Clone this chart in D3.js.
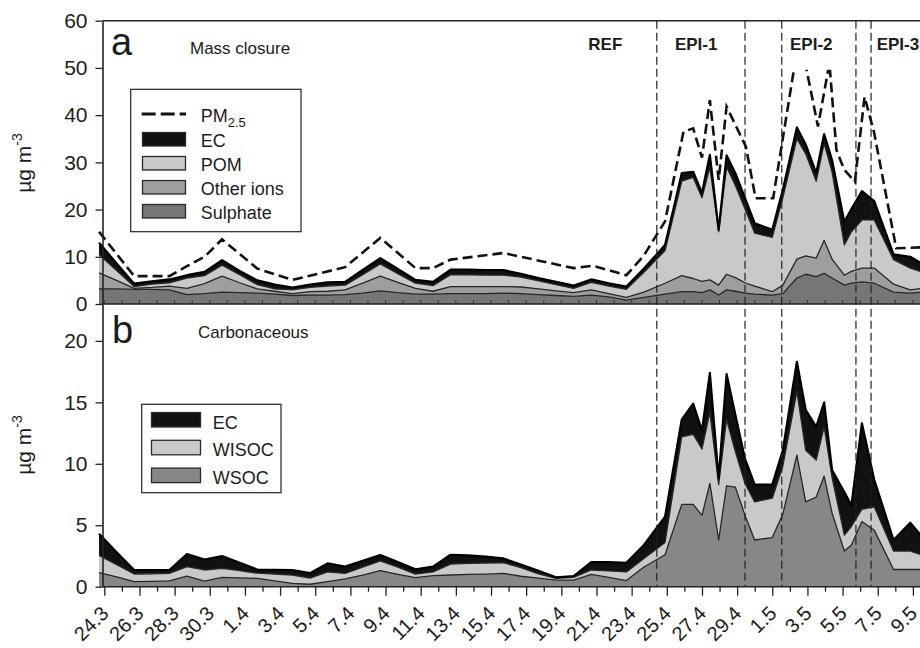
<!DOCTYPE html>
<html lang="en">
<head>
  <meta charset="UTF-8">
  <title>Mass closure / carbonaceous</title>
  <script src="https://cdn.jsdelivr.net/npm/d3@7"></script>
</head>
<style>
  body {
    margin: 0;
    background: #fff;
  }
  svg {
    display: block;
    font-family: "Liberation Sans", Arial, sans-serif;
  }
  text {
    fill: #1c1c1c;
  }
</style>
<body>
<svg width="920" height="648"></svg>
<script>
  // sample times, in days after 24.3 00:00
  const sampleDays = [-0.3, 0.7, 1.7, 2.7, 3.7, 4.7, 5.7, 6.7, 7.7, 8.7, 9.7, 10.7, 11.7, 12.7, 13.7, 14.7,
    15.7, 16.7, 17.7, 18.7, 19.7, 20.7, 21.7, 22.7, 23.7, 24.7, 25.7, 26.7, 27.7, 28.7, 29.7, 30.7,
    31.9, 32.85, 33.5, 34.0, 34.45, 34.95, 35.4, 35.9, 36.45, 37.0, 38.0, 38.6, 39.4, 39.9, 40.5, 40.95,
    41.4, 42.1, 42.5, 43.1, 43.8, 44.9, 45.85, 46.5];

  // panel a, ug m-3
  const sulphate = [3.2, 3.2, 3.1, 3.1, 3.0, 2.0, 2.2, 2.5, 2.4, 2.3, 2.1, 1.8, 1.9, 1.9, 2.0, 2.3,
    2.8, 2.4, 2.1, 2.1, 2.2, 2.2, 2.2, 2.3, 2.2, 2.0, 1.8, 1.6, 1.9, 1.5, 0.8, 1.4,
    2.1, 2.6, 2.6, 2.4, 3.0, 1.9, 3.0, 2.7, 2.3, 2.1, 1.9, 2.2, 5.5, 6.3, 5.8, 6.5,
    5.5, 4.0, 4.4, 4.7, 4.4, 2.5, 2.3, 2.5];
  const otherIons = [3.4, 1.8, 0.2, 0.4, 0.8, 1.3, 2.1, 3.4, 2.1, 0.9, 0.6, 0.4, 0.7, 0.8, 1.0, 2.1,
    3.1, 2.2, 1.2, 0.6, 1.5, 1.5, 1.5, 1.4, 1.4, 1.2, 1.0, 0.8, 1.1, 0.7, 0.6, 1.1,
    2.3, 3.4, 2.8, 2.4, 2.1, 2.1, 3.3, 2.9, 2.2, 1.7, 0.7, 1.8, 4.0, 3.9, 3.9, 7.0,
    4.0, 2.1, 2.5, 2.9, 3.2, 1.7, 0.7, 0.8];
  const pom = [3.9, 2.1, 0.4, 0.7, 0.7, 2.2, 1.7, 2.3, 1.7, 0.9, 0.5, 0.8, 0.9, 1.1, 1.0, 1.8,
    2.6, 1.8, 1.1, 1.2, 2.5, 2.5, 2.4, 2.4, 2.1, 1.7, 1.3, 0.9, 1.6, 1.6, 1.7, 4.2,
    6.9, 20.0, 21.4, 17.7, 23.9, 11.3, 22.7, 19.5, 15.6, 11.2, 11.5, 18.5, 25.5, 21.6, 16.3, 20.5,
    18.5, 6.4, 8.4, 10.2, 10.2, 5.2, 4.6, 3.5];
  const ecMassClosure = [2.5, 1.5, 0.6, 0.6, 0.7, 0.6, 0.8, 1.1, 0.8, 0.9, 0.9, 0.5, 0.6, 0.8, 0.7, 1.0,
    1.2, 1.0, 0.7, 0.8, 1.1, 1.1, 1.1, 1.1, 0.7, 0.6, 0.6, 0.6, 0.6, 0.6, 0.6, 0.8,
    1.2, 1.7, 1.2, 1.0, 2.6, 0.4, 2.5, 2.6, 2.3, 2.1, 1.6, 1.7, 2.4, 2.0, 1.7, 2.0,
    2.5, 4.9, 4.8, 6.1, 4.0, 1.1, 2.4, 1.8];

  const pmDays = [-0.3, 1.7, 3.7, 4.7, 5.7, 6.7, 8.7, 10.7, 13.7, 15.7, 17.7, 18.7, 19.7, 22.7, 26.7, 27.8,
    29.7, 30.7, 31.9, 32.95, 33.5, 34.0, 34.45, 34.95, 35.4, 36.5, 37.05, 38.05, 39.55, 40.6, 41.25, 41.65,
    42.1, 42.7, 43.25, 43.8, 45.05, 46.5];
  const pm25 = [15.3, 5.9, 5.9, 8.0, 10.0, 13.7, 7.5, 5.1, 7.8, 14.0, 7.6, 7.6, 9.4, 10.8, 7.6, 8.1,
    6.1, 10.3, 17.5, 36.5, 37.2, 31.0, 43.2, 26.3, 41.8, 33.3, 22.4, 22.4, 57.0, 37.6, 51.0, 32.6,
    28.4, 25.9, 43.9, 36.2, 11.8, 12.0];

  // panel b, ug m-3
  const wsoc = [1.15, 0.8, 0.41, 0.44, 0.47, 0.87, 0.45, 0.76, 0.72, 0.68, 0.47, 0.27, 0.2, 0.41, 0.63, 0.95,
    1.3, 1.0, 0.73, 0.9, 0.95, 1.0, 1.03, 1.08, 0.85, 0.7, 0.54, 0.54, 1.0, 0.75, 0.5, 1.6,
    2.6, 6.7, 6.7, 5.8, 8.4, 3.8, 8.2, 8.1, 5.8, 3.8, 4.0, 5.9, 10.7, 6.9, 7.3, 9.0,
    6.0, 2.9, 3.4, 5.3, 4.6, 1.4, 1.4, 1.4];
  const wisoc = [1.4, 1.0, 0.62, 0.61, 0.61, 0.76, 0.91, 0.74, 0.58, 0.42, 0.56, 0.68, 0.5, 0.79, 0.45, 0.65,
    0.8, 0.6, 0.3, 0.3, 0.89, 0.9, 0.9, 0.87, 0.7, 0.35, 0.14, 0.22, 0.36, 0.53, 0.7, 0.7,
    1.0, 5.5, 5.7, 5.4, 5.8, 4.5, 5.4, 2.9, 2.6, 3.1, 3.2, 3.9, 5.2, 4.2, 3.0, 4.0,
    2.9, 1.3, 1.5, 1.0, 1.9, 1.5, 1.5, 1.2];
  const ecCarbon = [1.75, 1.0, 0.33, 0.31, 0.28, 1.02, 0.84, 1.0, 0.65, 0.3, 0.35, 0.41, 0.4, 0.7, 0.55, 0.5,
    0.47, 0.4, 0.38, 0.43, 0.76, 0.65, 0.52, 0.35, 0.25, 0.25, 0.08, 0.11, 0.64, 0.72, 0.75, 1.1,
    2.1, 1.4, 2.5, 1.5, 3.2, 0.5, 3.7, 3.0, 2.0, 1.4, 1.1, 1.3, 2.4, 3.3, 2.7, 2.0,
    0.6, 3.5, 1.7, 7.0, 2.2, 0.9, 2.3, 1.5];

  // x axis labels every second day, starting 24.3
  const tickLabels = ['24.3', '26.3', '28.3', '30.3', '1.4', '3.4', '5.4', '7.4', '9.4', '11.4', '13.4', '15.4',
    '17.4', '19.4', '21.4', '23.4', '25.4', '27.4', '29.4', '1.5', '3.5', '5.5', '7.5', '9.5'];
  const periodLineDays = [31.43, 36.45, 38.54, 42.76, 43.62];
  const periodNames = ['REF', 'EPI-1', 'EPI-2', 'EPI-3'];
  const periodLabelDays = [28.5, 33.67, 40.22, 45.15];

  const svg = d3.select('svg');
  const W = 920;
  const axisX = 102.5;

  const x = d3.scaleLinear().domain([0, 46]).range([104.3, 912.9]);
  const yA = d3.scaleLinear().domain([0, 60]).range([304, 20.7]);
  const yB = d3.scaleLinear().domain([0, 23]).range([586.7, 304]);

  const colour = {
    sulphate: '#767676',
    other: '#9e9e9e',
    pom: '#c9c9c9',
    ec: '#111',
    wsoc: '#878787',
    wisoc: '#c9c9c9'
  };

  const rowsA = sampleDays.map((t, i) => ({t: t, sulphate: sulphate[i], other: otherIons[i], pom: pom[i], ec: ecMassClosure[i]}));
  const rowsB = sampleDays.map((t, i) => ({t: t, wsoc: wsoc[i], wisoc: wisoc[i], ec: ecCarbon[i]}));

  function drawStack(rows, keys, y) {
    const layers = d3.stack().keys(keys)(rows);
    const area = d3.area().x(d => x(d.data.t)).y0(d => y(d[0])).y1(d => y(d[1]));
    const edge = d3.line().x(d => x(d.data.t)).y(d => y(d[1]));
    const g = svg.append('g');
    g.selectAll('path.area').data(layers).enter().append('path')
      .attr('class', 'area')
      .attr('d', area)
      .style('fill', d => colour[d.key]);
    g.selectAll('path.edge').data(layers).enter().append('path')
      .attr('class', 'edge')
      .attr('d', edge)
      .style('fill', 'none')
      .style('stroke', d => d.key === 'ec' ? '#000' : '#262626')
      .style('stroke-width', d => d.key === 'ec' ? 2.2 : 1.3)
      .style('stroke-linejoin', 'round');
  }

  drawStack(rowsA, ['sulphate', 'other', 'pom', 'ec'], yA);
  drawStack(rowsB, ['wsoc', 'wisoc', 'ec'], yB);

  // period boundaries
  svg.append('g').selectAll('line').data(periodLineDays).enter().append('line')
    .attr('x1', d => x(d)).attr('x2', d => x(d))
    .attr('y1', yA(60)).attr('y2', yB(0))
    .style('stroke', '#222').style('stroke-width', 1.2).style('stroke-dasharray', '8,4');

  svg.append('g').selectAll('text').data(periodNames).enter().append('text')
    .attr('x', (d, i) => x(periodLabelDays[i]))
    .attr('y', 50)
    .attr('text-anchor', 'middle')
    .style('font-size', '17px').style('font-weight', 'bold')
    .text(d => d);

  // PM2.5, cut off above 50 as in the original
  svg.append('clipPath').attr('id', 'pmClip').append('rect')
    .attr('x', 0).attr('y', yA(49.6)).attr('width', W).attr('height', yA(0) - yA(49.6));
  const pmLine = d3.line().x((d, i) => x(pmDays[i])).y(d => yA(d));
  svg.append('path')
    .attr('d', pmLine(pm25))
    .attr('clip-path', 'url(#pmClip)')
    .style('fill', 'none').style('stroke', '#111').style('stroke-width', 2.6)
    .style('stroke-dasharray', '10,5');

  // frame
  svg.append('line').attr('x1', axisX).attr('x2', W).attr('y1', yA(60)).attr('y2', yA(60))
    .style('stroke', '#222').style('stroke-width', 1.4);
  svg.append('line').attr('x1', axisX).attr('x2', W).attr('y1', yA(0)).attr('y2', yA(0))
    .style('stroke', '#222').style('stroke-width', 1.6);
  svg.append('line').attr('x1', axisX).attr('x2', W).attr('y1', yB(0)).attr('y2', yB(0))
    .style('stroke', '#222').style('stroke-width', 1.6);

  // small ticks on panel a baseline
  svg.append('g').selectAll('line').data(d3.range(0, 47)).enter().append('line')
    .attr('x1', d => x(d)).attr('x2', d => x(d))
    .attr('y1', yA(0)).attr('y2', yA(0) - 4)
    .style('stroke', '#333').style('stroke-width', 1);

  // y axes
  function styleAxis(g) {
    g.attr('font-size', 21).attr('font-family', '"Liberation Sans", Arial, sans-serif');
    g.selectAll('line').style('stroke', '#222').style('stroke-width', 1.3);
    g.selectAll('path').style('stroke', '#222').style('stroke-width', 1.6);
    g.selectAll('text').style('fill', '#1c1c1c');
  }
  svg.append('g').attr('transform', `translate(${axisX},0)`)
    .call(d3.axisLeft(yA).tickValues([0, 10, 20, 30, 40, 50, 60]).tickSize(7).tickSizeOuter(0).tickPadding(8))
    .call(styleAxis);
  svg.append('g').attr('transform', `translate(${axisX},0)`)
    .call(d3.axisLeft(yB).tickValues([0, 5, 10, 15, 20]).tickSize(7).tickSizeOuter(0).tickPadding(8))
    .call(styleAxis);

  // x axis
  const major = svg.append('g').attr('transform', `translate(0,${yB(0)})`)
    .call(d3.axisBottom(x).tickValues(d3.range(0, 47, 2)).tickSize(9).tickSizeOuter(0)
      .tickFormat((d, i) => tickLabels[i]))
    .call(styleAxis);
  major.select('.domain').remove();
  major.selectAll('text')
    .attr('x', 0).attr('y', 0).attr('dy', null)
    .attr('transform', 'translate(5,28) rotate(-45)')
    .attr('text-anchor', 'end')
    .attr('font-size', 20);
  const minor = svg.append('g').attr('transform', `translate(0,${yB(0)})`)
    .call(d3.axisBottom(x).tickValues(d3.range(1, 47, 2)).tickSize(5).tickSizeOuter(0).tickFormat(''))
    .call(styleAxis);
  minor.select('.domain').remove();

  // axis titles
  function yTitle(cy) {
    const t = svg.append('text')
      .attr('transform', `translate(31,${cy}) rotate(-90)`)
      .attr('text-anchor', 'middle')
      .style('font-size', '21px');
    t.append('tspan').text('\u00b5g m');
    t.append('tspan').attr('dy', -9).style('font-size', '14px').text('-3');
  }
  yTitle(163);
  yTitle(445);

  // panel letters and titles
  svg.append('text').attr('x', 111).attr('y', 55).style('font-size', '38px').text('a');
  svg.append('text').attr('x', 190).attr('y', 54).style('font-size', '17px').text('Mass closure');
  svg.append('text').attr('x', 112).attr('y', 343).style('font-size', '38px').text('b');
  svg.append('text').attr('x', 198).attr('y', 338).style('font-size', '17px').text('Carbonaceous');

  // legend a
  const legA = svg.append('g');
  legA.append('rect').attr('x', 130.7).attr('y', 89.3).attr('width', 170.3).attr('height', 142.4)
    .style('fill', '#fff').style('stroke', '#222').style('stroke-width', 1.2);
  legA.append('line').attr('x1', 141.7).attr('x2', 186).attr('y1', 114).attr('y2', 114)
    .style('stroke', '#111').style('stroke-width', 2.8).style('stroke-dasharray', '14,5');
  const pmText = legA.append('text').attr('x', 200.7).attr('y', 122).style('font-size', '18px');
  pmText.append('tspan').text('PM');
  pmText.append('tspan').attr('dy', 5).style('font-size', '13px').text('2.5');
  const legAKeys = ['ec', 'pom', 'other', 'sulphate'];
  const legANames = ['EC', 'POM', 'Other ions', 'Sulphate'];
  legAKeys.forEach((k, i) => {
    legA.append('rect').attr('x', 142.5).attr('y', 132.5 + i * 24).attr('width', 43).attr('height', 13.5)
      .style('fill', colour[k]).style('stroke', '#2a2a2a').style('stroke-width', 1.3);
    legA.append('text').attr('x', 200.7).attr('y', 147 + i * 24).style('font-size', '18px').text(legANames[i]);
  });

  // legend b
  const legB = svg.append('g');
  legB.append('rect').attr('x', 141.7).attr('y', 404.3).attr('width', 139.3).attr('height', 88.4)
    .style('fill', '#fff').style('stroke', '#222').style('stroke-width', 1.2);
  const legBKeys = ['ec', 'wisoc', 'wsoc'];
  const legBNames = ['EC', 'WISOC', 'WSOC'];
  legBKeys.forEach((k, i) => {
    legB.append('rect').attr('x', 151.5).attr('y', 412.5 + i * 27.8).attr('width', 49).attr('height', 14.5)
      .style('fill', colour[k]).style('stroke', '#2a2a2a').style('stroke-width', 1.3);
    legB.append('text').attr('x', 212.7).attr('y', 428.5 + i * 27.8).style('font-size', '18px').text(legBNames[i]);
  });
</script>
</body>
</html>
